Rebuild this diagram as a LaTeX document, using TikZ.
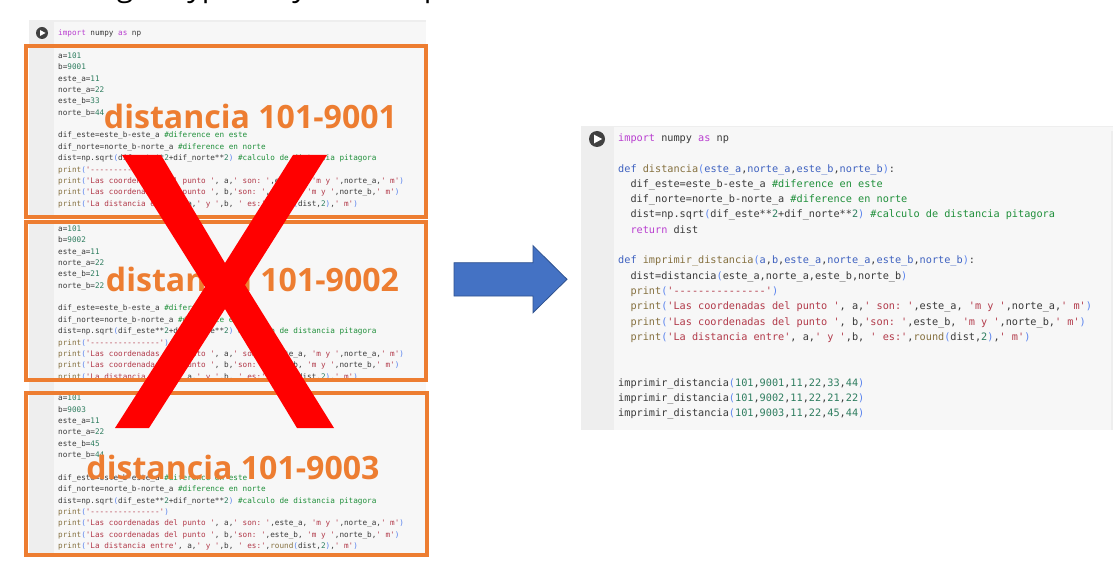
\documentclass[tikz,border=0pt]{standalone}
\usepackage{fontspec}
\setmainfont{Open Sans}
\newfontfamily\codefont{DejaVu Sans Mono}
\definecolor{boxorange}{HTML}{ED7D31}
\definecolor{arrowblue}{HTML}{4472C4}
\definecolor{arrowedge}{HTML}{2F528F}
\definecolor{cellbg}{HTML}{F7F7F7}
\definecolor{gutterbg}{HTML}{EEEEEE}
\definecolor{codetxt}{HTML}{3A3A3A}
\definecolor{codekw}{HTML}{B93FD0}
\definecolor{codedef}{HTML}{3F62C0}
\definecolor{codefn}{HTML}{85703F}
\definecolor{codestr}{HTML}{B23A4A}
\definecolor{codenum}{HTML}{2E7D5F}
\definecolor{codecm}{HTML}{1F8F3A}
\definecolor{codebr}{HTML}{5C85EE}
\newcommand{\kw}[1]{\textcolor{codekw}{#1}}
\newcommand{\df}[1]{\textcolor{codedef}{#1}}
\newcommand{\fn}[1]{\textcolor{codefn}{#1}}
\newcommand{\st}[1]{\textcolor{codestr}{#1}}
\newcommand{\nm}[1]{\textcolor{codenum}{#1}}
\newcommand{\cm}[1]{\textcolor{codecm}{#1}}
\newcommand{\br}[1]{\textcolor{codebr}{#1}}
\catcode`\_=12
\newcommand{\leftcode}[3]{a=\nm{101}\\
	b=\nm{#1}\\
	este_a=\nm{11}\\
	norte_a=\nm{22}\\
	este_b=\nm{#2}\\
	norte_b=\nm{#3}\\
	\mbox{}\\
	dif_este=este_b-este_a \cm{\#diference en este}\\
	dif_norte=norte_b-norte_a \cm{\#diference en norte}\\
	dist=np.sqrt\br{(}dif_este**\nm{2}+dif_norte**\nm{2}\br{)} \cm{\#calculo de distancia pitagora}\\
	\fn{print}\br{(}\st{'---------------'}\br{)}\\
	\fn{print}\br{(}\st{'Las coordenadas del punto '}, a,\st{' son: '},este_a, \st{'m y '},norte_a,\st{' m'}\br{)}\\
	\fn{print}\br{(}\st{'Las coordenadas del punto '}, b,\st{'son: '},este_b, \st{'m y '},norte_b,\st{' m'}\br{)}\\
	\fn{print}\br{(}\st{'La distancia entre'}, a,\st{' y '},b, \st{' es:'},\fn{round}\br{(}dist,\nm{2}\br{)},\st{' m'}\br{)}}
\tikzset{
	smallcode/.style={inner sep=0pt, anchor=north west, align=left, text=codetxt, font=\codefont\frenchspacing\fontsize{7.66}{11.37}\selectfont},
	bigcode/.style={inner sep=0pt, anchor=north west, align=left, text=codetxt, font=\codefont\frenchspacing\fontsize{10.22}{15.3}\selectfont},
	bigtag/.style={inner sep=0pt, text=boxorange, font=\bfseries\fontsize{32.1}{36}\selectfont},
	crosscut/.style={draw=boxorange, line width=4pt},
	headcut/.style={inner sep=0pt, anchor=base, text=black, font=\fontsize{30}{34}\selectfont}
}
\begin{document}
\begin{tikzpicture}[x=1pt,y=-1pt]
	\clip (0,0) rectangle (1118,577);
	\fill[white] (0,0) rectangle (1118,577);
	\foreach \x/\t [count=\i] in {125/g, 195/y, 211/p, 300/y, 433/p}
	{
		\node[headcut] (head\i) at (\x,-3) {\t};
	}
	% left cells
	\foreach \yt/\yb in {20/219, 220/391, 391/554}
	{
		\fill[cellbg] (29,\yt) rectangle (426,\yb);
		\fill[gutterbg] (29,\yt) rectangle (54,\yb);
	}
	\fill[gutterbg] (29,20) rectangle (426,22);
	\fill[black!75] (42,33) circle (6);
	\fill[white] (40,30) -- (45.5,33) -- (40,36) -- cycle;
	\node[smallcode, anchor=west] (importleft) at (58,33) {\kw{import} numpy \kw{as} np};
	\node[smallcode] (cellone) at (58,52.5) {\leftcode{9001}{33}{44}};
	\begin{scope}
		\clip (29,224) rectangle (426,378.5);
		\node[smallcode] (celltwo) at (58,225.5) {\leftcode{9002}{21}{22}};
	\end{scope}
	\node[smallcode] (cellthree) at (58,395) {\leftcode{9003}{45}{44}};
	% orange boxes
	\foreach \xr/\yt/\yb in {426/46/217, 426/222/380, 427/393/555}
	{
		\draw[crosscut] (26,\yt) rectangle (\xr,\yb);
	}
	\node[bigtag] (tagone) at (250.5,116) {distancia 101-9001};
	\node[bigtag] (tagtwo) at (252.5,279) {distancia 101-9002};
	\node[bigtag] (tagthree) at (233,467) {distancia 101-9003};
	\fill[red] (122,155) -- (161,155) -- (225,263) -- (293,155) -- (327,155) -- (245,285) -- (334,428) -- (297,428) -- (225,309) -- (149,428) -- (115,428) -- (205,287) -- cycle;
	% arrow
	\draw[arrowedge, fill=arrowblue, line width=0.8pt] (454,262.7) -- (533,262.7) -- (533,245.7) -- (567,279.3) -- (533,312.7) -- (533,296) -- (454,296) -- cycle;
	% right cell
	\fill[cellbg] (581,126) rectangle (1113,430);
	\fill[gutterbg] (581,126) rectangle (614,430);
	\fill[gutterbg] (581,126) rectangle (1113,127);
	\fill[gutterbg] (1111,131) rectangle (1113,430);
	\fill[black!75] (597,139) circle (8);
	\fill[white] (594,134.6) -- (602.2,139) -- (594,143.4) -- cycle;
	\node[bigcode] (cellright) at (618,133.5) {\kw{import} numpy \kw{as} np\\
		\mbox{}\\
		\df{def} \fn{distancia}\br{(}\df{este_a},\df{norte_a},\df{este_b},\df{norte_b}\br{)}:\\
		\hspace*{12.3pt}dif_este=este_b-este_a \cm{\#diference en este}\\
		\hspace*{12.3pt}dif_norte=norte_b-norte_a \cm{\#diference en norte}\\
		\hspace*{12.3pt}dist=np.sqrt\br{(}dif_este**\nm{2}+dif_norte**\nm{2}\br{)} \cm{\#calculo de distancia pitagora}\\
		\hspace*{12.3pt}\kw{return} dist\\
		\mbox{}\\
		\df{def} \fn{imprimir_distancia}\br{(}\df{a},\df{b},\df{este_a},\df{norte_a},\df{este_b},\df{norte_b}\br{)}:\\
		\hspace*{12.3pt}dist=distancia\br{(}este_a,norte_a,este_b,norte_b\br{)}\\
		\hspace*{12.3pt}\fn{print}\br{(}\st{'---------------'}\br{)}\\
		\hspace*{12.3pt}\fn{print}\br{(}\st{'Las coordenadas del punto '}, a,\st{' son: '},este_a, \st{'m y '},norte_a,\st{' m'}\br{)}\\
		\hspace*{12.3pt}\fn{print}\br{(}\st{'Las coordenadas del punto '}, b,\st{'son: '},este_b, \st{'m y '},norte_b,\st{' m'}\br{)}\\
		\hspace*{12.3pt}\fn{print}\br{(}\st{'La distancia entre'}, a,\st{' y '},b, \st{' es:'},\fn{round}\br{(}dist,\nm{2}\br{)},\st{' m'}\br{)}\\
		\mbox{}\\
		\mbox{}\\
		imprimir_distancia\br{(}\nm{101},\nm{9001},\nm{11},\nm{22},\nm{33},\nm{44}\br{)}\\
		imprimir_distancia\br{(}\nm{101},\nm{9002},\nm{11},\nm{22},\nm{21},\nm{22}\br{)}\\
		imprimir_distancia\br{(}\nm{101},\nm{9003},\nm{11},\nm{22},\nm{45},\nm{44}\br{)}};
\end{tikzpicture}
\end{document}
